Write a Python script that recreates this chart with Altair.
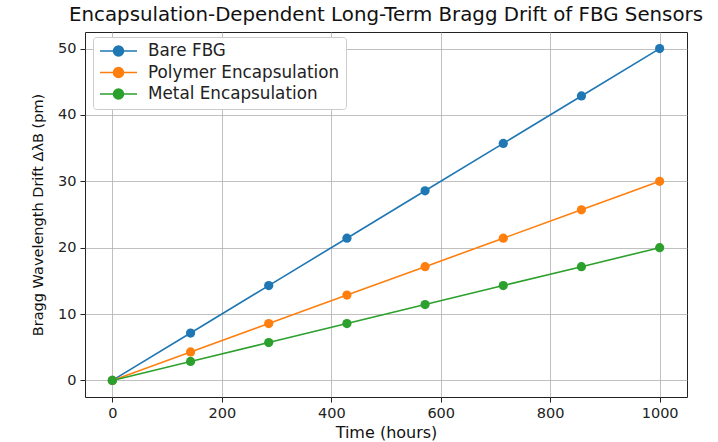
import altair as alt
import pandas as pd

time_hours = [0, 142.9, 285.7, 428.6, 571.4, 714.3, 857.1, 1000]
bare_fbg = [0, 7.14, 14.29, 21.43, 28.57, 35.71, 42.86, 50.0]
polymer = [0, 4.29, 8.57, 12.86, 17.14, 21.43, 25.71, 30.0]
metal = [0, 2.86, 5.71, 8.57, 11.43, 14.29, 17.14, 20.0]

series_names = ["Bare FBG", "Polymer Encapsulation", "Metal Encapsulation"]
series_colors = ["#1f77b4", "#ff7f0e", "#2ca02c"]

rows = []
for name, vals in zip(series_names, [bare_fbg, polymer, metal]):
    for t, v in zip(time_hours, vals):
        rows.append({"Time": t, "Drift": v, "Series": name})
df = pd.DataFrame(rows)

FONT = "DejaVu Sans"

legend_symbol = "M -1 0 L 1 0 M 0.27 0 A 0.27 0.27 0 1 1 -0.27 0 A 0.27 0.27 0 1 1 0.27 0 Z"

color = alt.Color(
    "Series:N",
    scale=alt.Scale(domain=series_names, range=series_colors),
    legend=alt.Legend(
        title=None,
        orient="none",
        legendX=8,
        legendY=5,
        symbolType=legend_symbol,
        symbolSize=1369,
        symbolStrokeWidth=1.6,
        clipHeight=16,
        labelFont=FONT,
        labelFontSize=16.8,
        labelLimit=400,
        labelColor="#222222",
        rowPadding=4.5,
        padding=6,
        strokeColor="#cccccc",
        fillColor="white",
        cornerRadius=3,
        labelOffset=10,
    ),
)

x = alt.X(
    "Time:Q",
    scale=alt.Scale(domain=[-50, 1050], nice=False, zero=False),
    axis=alt.Axis(values=[0, 200, 400, 600, 800, 1000], format="d", title="Time (hours)"),
)
y = alt.Y(
    "Drift:Q",
    scale=alt.Scale(domain=[-2.5, 52.5], nice=False, zero=False),
    axis=alt.Axis(values=[0, 10, 20, 30, 40, 50], format="d", title="Bragg Wavelength Drift ΔλB (pm)"),
)

base = alt.Chart(df).encode(x=x, y=y, color=color, order=alt.Order("Time:Q"))
lines = base.mark_line(strokeWidth=1.6, clip=True)
points = base.mark_circle(size=85, opacity=1, clip=True)

chart = (
    alt.layer(lines, points)
    .properties(
        width=602,
        height=365,
        title=alt.TitleParams(
            "Encapsulation-Dependent Long-Term Bragg Drift of FBG Sensors",
            font=FONT,
            fontSize=19.8,
            fontWeight="normal",
            color="#111111",
            anchor="middle",
            offset=7,
        ),
        autosize=alt.AutoSizeParams(type="none"),
        padding={"left": 85, "top": 32, "right": 30, "bottom": 45},
    )
    .configure_view(stroke="#222222", strokeWidth=1)
    .configure_axis(
        labelFont=FONT,
        labelFontSize=14.5,
        labelColor="#222222",
        titleFont=FONT,
        titleFontWeight="normal",
        titleColor="#111111",
        grid=True,
        gridColor="#b0b0b0",
        gridWidth=0.8,
        domain=False,
        tickColor="#222222",
        tickSize=5,
        labelPadding=4,
    )
    .configure_axisX(titlePadding=5, titleFontSize=16)
    .configure_axisY(titlePadding=12, titleFontSize=14.5)
)

chart.save("out.html", embed_options={"renderer": "svg", "actions": False})
